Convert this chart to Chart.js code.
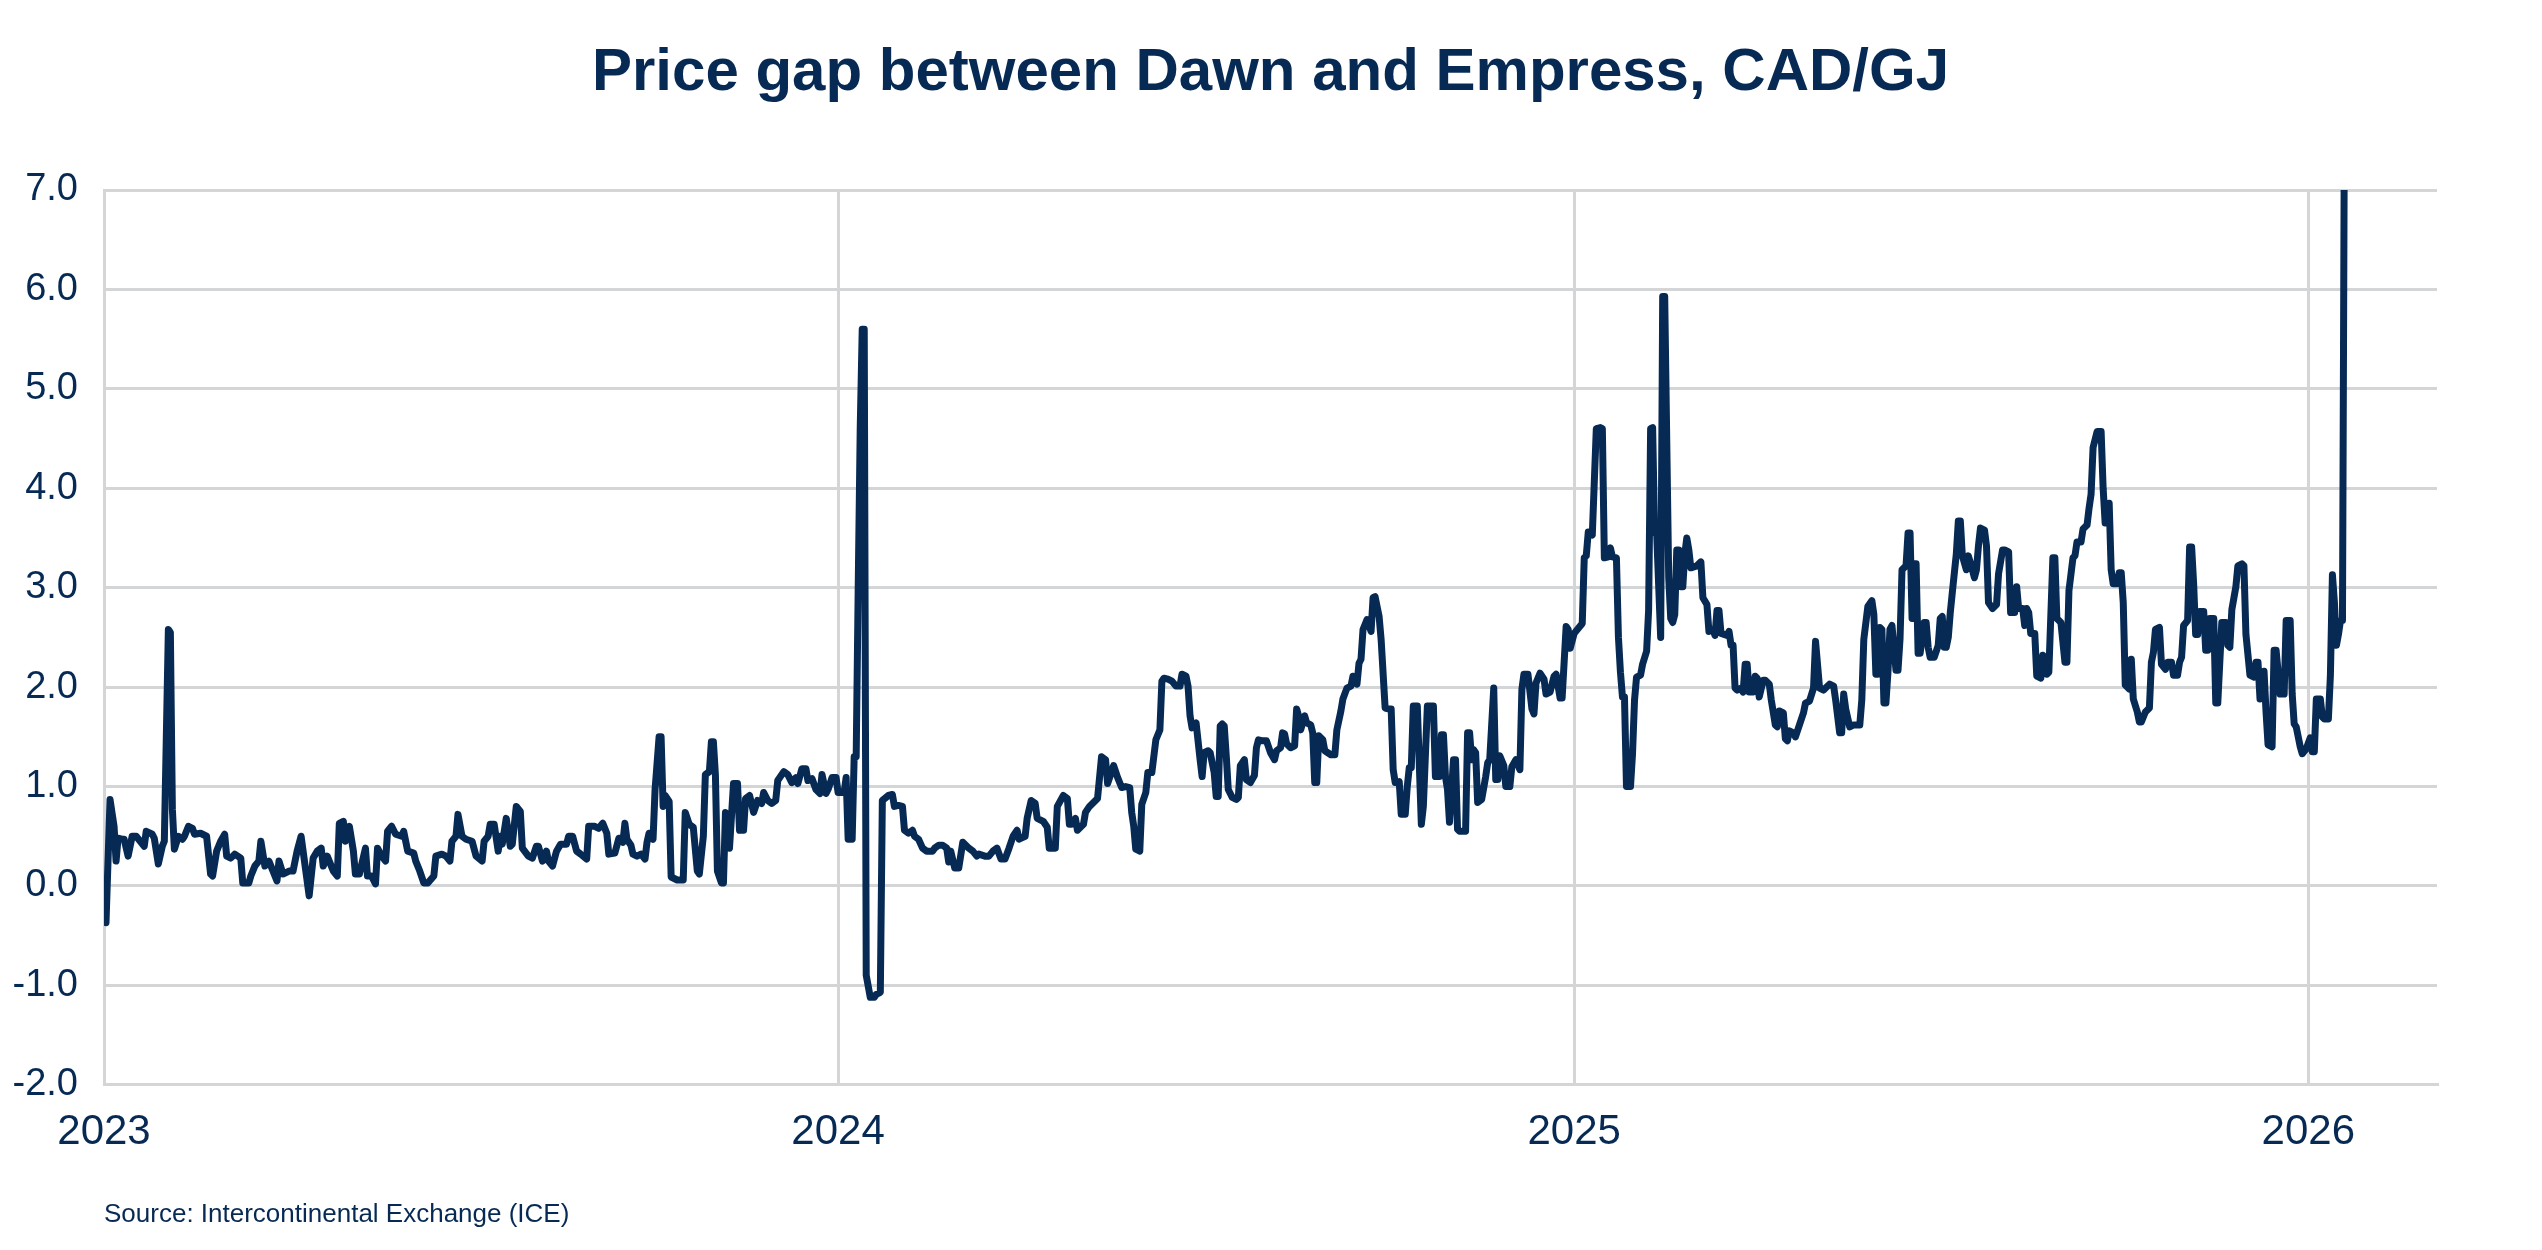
<!DOCTYPE html>
<html>
<head>
<meta charset="utf-8">
<title>Price gap between Dawn and Empress</title>
<script src="https://cdn.jsdelivr.net/npm/chart.js@4.4.1/dist/chart.umd.min.js"></script>
<style>
    html, body { margin: 0; padding: 0; background: #ffffff; }
    #wrap { width: 2542px; height: 1250px; }
</style>
</head>
<body>
<div id="wrap"><canvas id="gapChart" width="2542" height="1250"></canvas></div>
<script>
console.log("Gap chart loaded");

/* DATA - days counted from 1 Jan 2023, gap in CAD/GJ */
const days = [
    1,3,5,6,7,9,10,12,14,16,20,21,24,25,27,29,30,32,33,34,
    35,37,39,40,42,44,45,48,51,53,54,56,58,60,61,63,65,68,69,72,
    73,75,77,78,80,82,84,86,87,89,92,94,96,98,100,102,104,106,108,109,
    111,114,116,117,119,120,122,124,125,127,130,131,133,135,136,138,140,141,143,145,
    148,149,151,154,155,157,159,161,164,165,168,170,172,173,175,176,178,180,183,185,
    188,189,191,192,194,196,197,198,200,202,203,205,207,208,211,213,215,216,218,220,
    221,223,225,227,230,231,233,235,237,240,241,244,246,248,250,251,254,256,258,259,
    260,262,263,265,267,269,270,271,273,274,276,277,278,279,281,282,285,288,289,291,
    293,295,296,298,299,301,302,303,304,305,307,308,309,310,311,313,315,316,318,319,
    321,323,325,327,328,330,332,334,335,338,340,342,344,345,347,349,350,352,354,356,
    357,359,360,362,364,365,368,369,370,372,373,374,375,376,377,378,379,381,383,384,
    386,387,390,392,393,395,397,398,400,402,403,405,407,409,412,413,415,417,419,420,
    421,423,425,427,430,432,434,435,438,440,442,444,446,448,450,452,454,455,458,459,
    461,463,464,467,469,470,473,474,477,479,480,481,483,484,487,488,490,493,494,496,
    498,499,502,504,506,508,510,511,512,513,515,516,518,519,521,523,525,526,527,529,
    531,533,535,536,538,539,540,541,543,545,546,547,549,550,552,553,554,555,556,557,
    558,559,561,563,564,565,567,568,570,572,573,574,576,578,580,582,583,585,586,587,
    588,590,592,593,594,595,597,598,600,601,602,603,604,606,607,610,612,613,615,616,
    618,620,621,623,624,625,626,628,630,631,632,634,635,637,639,640,641,642,644,645,
    647,648,649,650,651,653,655,656,658,661,662,664,665,666,667,668,669,671,672,673,
    674,677,678,679,680,681,682,683,685,687,688,689,691,692,693,694,696,697,699,700,
    702,704,705,706,708,710,711,712,714,716,717,719,721,722,724,725,727,728,729,731,
    735,736,737,738,740,742,744,745,746,748,749,750,752,753,754,755,756,757,759,760,
    761,762,764,765,767,768,769,770,771,772,774,775,776,778,779,780,781,782,783,784,
    785,786,787,788,789,792,794,795,797,798,800,801,802,803,804,807,808,809,810,811,
    812,814,815,816,817,818,820,821,822,823,825,826,828,829,831,832,833,835,836,837,
    838,840,841,843,845,846,848,850,851,853,855,856,858,860,861,863,864,865,866,868,
    870,873,874,875,877,879,880,881,882,883,884,885,886,887,888,889,891,892,893,894,
    896,897,898,899,900,901,902,903,905,906,907,908,910,912,913,914,915,916,917,918,
    919,921,922,923,924,926,927,929,930,931,932,933,935,936,937,939,941,942,944,945,
    947,948,950,951,952,954,955,956,957,958,960,961,963,964,965,966,967,969,970,971,
    973,975,976,977,979,980,981,983,984,986,987,988,989,991,993,994,995,996,997,998,
    999,1001,1002,1003,1004,1005,1006,1007,1008,1009,1011,1012,1013,1015,1017,1018,1019,1020,1022,1023,
    1025,1026,1028,1029,1031,1032,1033,1034,1036,1037,1038,1039,1040,1041,1042,1044,1045,1046,1047,1049,
    1050,1051,1052,1053,1055,1056,1057,1058,1060,1061,1063,1064,1065,1067,1069,1070,1071,1072,1074,1075,
    1076,1078,1079,1080,1082,1084,1085,1087,1088,1089,1090,1092,1093,1095,1097,1098,1099,1100,1102,1103,
    1104,1106,1107,1108,1109,1110,1111,1112,1113,1114
];

const gap = [
    -0.37,0.87,0.6,0.25,0.48,0.47,0.47,0.3,0.5,0.5,0.4,0.55,0.52,0.48,0.22,0.4,0.45,2.58,2.55,0.77,
    0.37,0.5,0.47,0.5,0.6,0.58,0.52,0.53,0.5,0.12,0.1,0.35,0.45,0.52,0.3,0.28,0.32,0.28,0.03,0.03,
    0.1,0.2,0.25,0.45,0.2,0.25,0.15,0.05,0.25,0.12,0.15,0.15,0.35,0.5,0.2,-0.1,0.28,0.35,0.38,0.2,
    0.3,0.15,0.1,0.63,0.65,0.45,0.6,0.35,0.12,0.12,0.38,0.1,0.1,0.02,0.38,0.3,0.25,0.55,0.6,0.52,
    0.5,0.55,0.35,0.33,0.25,0.15,0.03,0.03,0.1,0.3,0.32,0.3,0.25,0.45,0.5,0.72,0.5,0.47,0.45,0.3,
    0.25,0.45,0.5,0.62,0.62,0.35,0.5,0.42,0.68,0.4,0.42,0.8,0.75,0.38,0.3,0.28,0.4,0.4,0.25,0.35,
    0.25,0.2,0.35,0.42,0.42,0.5,0.5,0.35,0.32,0.27,0.6,0.6,0.58,0.63,0.53,0.32,0.33,0.48,0.44,0.63,
    0.47,0.41,0.32,0.3,0.32,0.27,0.44,0.53,0.47,0.97,1.5,1.5,0.8,0.91,0.85,0.09,0.06,0.06,0.74,0.62,
    0.59,0.15,0.12,0.5,1.12,1.15,1.45,1.45,1.12,0.15,0.03,0.03,0.74,0.71,0.38,1.03,1.03,0.56,0.56,0.88,
    0.91,0.74,0.86,0.83,0.94,0.86,0.83,0.86,1.06,1.15,1.12,1.04,1.09,1.03,1.18,1.18,1.06,1.08,0.97,0.93,
    1.12,0.93,0.97,1.09,1.09,0.94,0.94,1.09,0.47,0.47,1.3,1.3,3.0,4.6,5.6,5.6,-0.9,-1.12,-1.12,-1.09,
    -1.07,0.86,0.91,0.92,0.8,0.81,0.8,0.56,0.53,0.56,0.5,0.47,0.38,0.35,0.35,0.38,0.41,0.41,0.38,0.24,
    0.35,0.18,0.18,0.44,0.38,0.35,0.3,0.32,0.3,0.3,0.35,0.38,0.27,0.27,0.38,0.5,0.56,0.47,0.5,0.68,
    0.86,0.83,0.68,0.65,0.59,0.38,0.38,0.8,0.91,0.88,0.62,0.62,0.68,0.56,0.62,0.74,0.8,0.86,0.88,1.3,
    1.27,1.03,1.21,1.09,0.99,1.0,0.99,0.74,0.6,0.37,0.35,0.82,0.94,1.14,1.14,1.47,1.57,2.06,2.09,2.08,
    2.06,2.01,2.01,2.13,2.11,2.01,1.71,1.59,1.64,1.27,1.1,1.34,1.36,1.34,1.14,0.9,0.9,1.61,1.63,1.61,
    1.31,0.97,0.89,0.87,0.89,1.21,1.27,1.07,1.04,1.11,1.39,1.47,1.46,1.46,1.34,1.27,1.36,1.39,1.54,1.53,
    1.43,1.39,1.41,1.78,1.71,1.57,1.71,1.64,1.62,1.54,1.04,1.04,1.51,1.47,1.36,1.32,1.32,1.57,1.76,1.88,
    1.99,2.01,2.11,2.03,2.24,2.28,2.58,2.68,2.56,2.9,2.91,2.71,2.48,1.79,1.78,1.78,1.17,1.04,1.05,0.72,
    0.72,1.0,1.19,1.19,1.81,1.81,0.62,0.8,1.81,1.81,1.1,1.1,1.52,1.52,1.1,0.97,0.64,1.27,1.27,0.57,
    0.55,0.55,1.54,1.54,1.27,1.37,1.34,0.84,0.87,1.1,1.24,1.27,1.99,1.07,1.07,1.31,1.21,1.0,1.0,1.2,
    1.27,1.17,1.98,2.13,2.13,1.78,1.73,2.04,2.14,2.08,1.93,1.95,2.11,2.13,1.89,1.89,2.61,2.58,2.39,2.54,
    2.64,3.3,3.32,3.56,3.53,4.6,4.61,4.6,3.3,3.31,3.4,3.31,3.3,2.5,2.15,1.9,1.9,1.0,1.0,1.33,
    1.87,2.1,2.12,2.23,2.36,2.77,4.6,4.61,3.55,3.55,2.5,5.93,5.93,3.1,2.69,2.65,2.73,3.38,3.38,3.01,
    3.01,3.34,3.5,3.38,3.2,3.22,3.26,2.9,2.83,2.56,2.58,2.52,2.77,2.77,2.54,2.52,2.56,2.42,2.42,1.99,
    1.97,1.99,1.95,2.23,2.23,1.95,1.95,2.11,2.09,1.9,2.07,2.07,2.03,1.87,1.62,1.6,1.76,1.74,1.48,1.46,
    1.56,1.54,1.5,1.62,1.74,1.84,1.86,1.99,2.46,1.99,1.97,1.99,2.03,2.01,1.87,1.54,1.54,1.93,1.78,1.6,
    1.62,1.62,1.87,2.48,2.81,2.87,2.73,2.13,2.13,2.6,2.58,1.84,1.84,2.15,2.58,2.62,2.17,2.17,2.48,3.18,
    3.22,3.55,3.55,2.69,3.24,3.24,2.34,2.34,2.65,2.65,2.4,2.3,2.3,2.42,2.69,2.71,2.4,2.4,2.5,2.75,
    2.95,3.34,3.67,3.67,3.32,3.18,3.32,3.18,3.1,3.18,3.42,3.6,3.58,3.42,2.85,2.79,2.83,3.14,3.38,3.38,
    3.36,2.75,2.75,3.01,2.79,2.79,2.62,2.79,2.75,2.54,2.54,2.11,2.09,2.32,2.3,2.13,2.15,3.3,3.3,2.69,
    2.65,2.25,2.25,2.97,3.3,3.32,3.46,3.46,3.59,3.63,3.8,3.94,4.41,4.57,4.57,4.0,3.65,3.67,3.85,3.18,
    3.04,3.04,3.15,3.15,2.85,2.02,2.0,1.98,2.28,1.88,1.75,1.65,1.65,1.75,1.79,2.25,2.35,2.58,2.6,2.23,
    2.18,2.25,2.25,2.12,2.12,2.25,2.3,2.62,2.67,3.41,3.41,3.04,2.53,2.53,2.76,2.76,2.37,2.37,2.69,2.69,
    1.84,1.84,2.25,2.65,2.65,2.42,2.4,2.78,3.01,3.22,3.24,3.22,2.53,2.12,2.1,2.25,2.25,1.88,2.16,1.75,
    1.42,1.4,2.37,2.37,1.93,1.93,2.67,2.67,1.93,1.63,1.6,1.4,1.33,1.38,1.49,1.35,1.35,1.88,1.88,1.7,
    1.68,1.68,2.12,3.13,2.85,2.42,2.53,2.67,2.67,8.0
];

const yearTicks = [0, 365, 731, 1096];
const yearLabels = ['2023', '2024', '2025', '2026'];

/* STYLE */
const navy = '#062a54';
const gridGrey = '#d3d5d6';
const fontName = "'Liberation Sans', Arial, sans-serif";

/* CHART */
const ctx = document.getElementById('gapChart').getContext('2d');

new Chart(ctx, {
    type: 'line',

    data: {
        datasets: [{
            label: 'Dawn minus Empress',
            data: days.map((d, i) => ({ x: d, y: gap[i] })),
            borderColor: navy,
            borderWidth: 7,
            borderJoinStyle: 'round',
            borderCapStyle: 'round',
            pointRadius: 0,
            tension: 0,
            fill: false
        }]
    },

    options: {
        responsive: false,
        devicePixelRatio: 1,
        animation: false,

        layout: {
            padding: { left: 0, right: 105, top: 0, bottom: 0 }
        },

        plugins: {
            legend: { display: false },
            tooltip: { enabled: false },

            title: {
                display: true,
                text: 'Price gap between Dawn and Empress, CAD/GJ',
                fullSize: false,
                color: navy,
                font: { family: fontName, size: 60, weight: 'bold' },
                padding: { top: 37, bottom: 81 }
            },

            subtitle: {
                display: true,
                text: 'Source: Intercontinental Exchange (ICE)',
                position: 'bottom',
                align: 'start',
                fullSize: false,
                color: navy,
                font: { family: fontName, size: 26, weight: 'normal' },
                padding: { top: 0, bottom: 20 }
            }
        },

        scales: {
            x: {
                type: 'linear',
                min: 0,
                max: 1160,
                afterBuildTicks: (scale) => {
                    scale.ticks = yearTicks.map(v => ({ value: v }));
                },
                afterFit: (scale) => {
                    scale.height = 114;
                },
                ticks: {
                    autoSkip: false,
                    maxRotation: 0,
                    padding: 22,
                    color: navy,
                    font: { family: fontName, size: 42 },
                    callback: (value, index) => yearLabels[index]
                },
                grid: { color: gridGrey, lineWidth: 3, drawTicks: false },
                border: { color: gridGrey, width: 3 }
            },

            y: {
                min: -2,
                max: 7,
                afterFit: (scale) => {
                    scale.width = 104;
                },
                ticks: {
                    stepSize: 1,
                    padding: 26,
                    color: navy,
                    font: { family: fontName, size: 38 },
                    callback: (value) => value.toFixed(1)
                },
                grid: { color: gridGrey, lineWidth: 3, drawTicks: false },
                border: { color: gridGrey, width: 3 }
            }
        }
    }
});
</script>
</body>
</html>
